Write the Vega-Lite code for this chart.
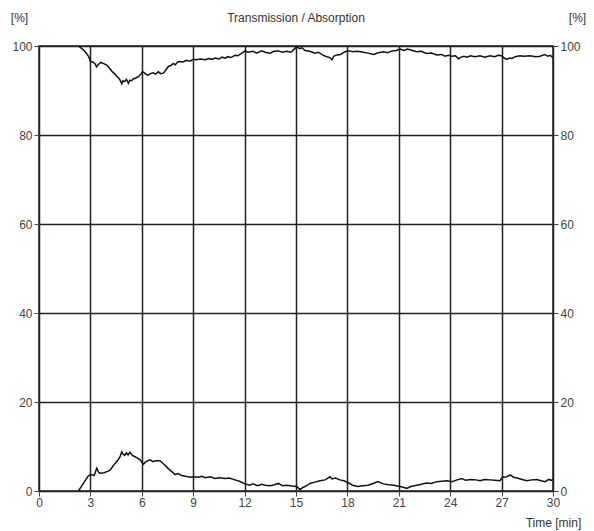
{
  "$schema": "https://vega.github.io/schema/vega-lite/v6.json",
  "width": 514,
  "height": 445,
  "autosize": "none",
  "padding": {"left": 39, "top": 46, "right": 41, "bottom": 40},
  "background": "white",
  "title": {
    "text": "Transmission / Absorption",
    "font": "Liberation Sans",
    "fontSize": 12,
    "fontWeight": "normal",
    "color": "#333",
    "anchor": "middle",
    "frame": "group",
    "offset": -14
  },
  "config": {
    "view": {"stroke": "#222", "strokeWidth": 1.5},
    "axis": {
      "labelFont": "Liberation Sans",
      "labelFontSize": 12,
      "labelColor": "#444",
      "labelFlush": false,
      "titleFont": "Liberation Sans",
      "titleFontSize": 12,
      "titleFontWeight": "normal",
      "titleColor": "#333",
      "domain": false,
      "tickColor": "#444",
      "tickSize": 5,
      "tickWidth": 1,
      "gridColor": "#222",
      "gridWidth": 1.5,
      "gridOpacity": 1
    }
  },
  "resolve": {"axis": {"y": "independent"}},
  "layer": [
    {
      "data": {"values": [
        {"t":2.3,"v":100},{"t":2.5,"v":99.4},{"t":2.7,"v":98.7},{"t":2.9,"v":97.6},{"t":3.0,"v":96.5},{"t":3.15,"v":96.4},{"t":3.27,"v":96.0},{"t":3.37,"v":95.3},{"t":3.45,"v":95.8},{"t":3.6,"v":96.3},{"t":3.75,"v":96.1},{"t":3.95,"v":95.7},{"t":4.1,"v":95.1},{"t":4.24,"v":94.4},{"t":4.4,"v":93.8},{"t":4.54,"v":93.2},{"t":4.65,"v":92.8},{"t":4.75,"v":92.2},{"t":4.83,"v":91.5},{"t":4.9,"v":92.2},{"t":5.0,"v":92.0},{"t":5.1,"v":92.5},{"t":5.22,"v":91.6},{"t":5.3,"v":92.3},{"t":5.4,"v":92.2},{"t":5.5,"v":92.6},{"t":5.65,"v":92.8},{"t":5.8,"v":93.1},{"t":5.95,"v":93.7},{"t":6.05,"v":94.3},{"t":6.2,"v":93.8},{"t":6.35,"v":93.4},{"t":6.5,"v":93.8},{"t":6.67,"v":94.0},{"t":6.8,"v":93.7},{"t":6.97,"v":94.2},{"t":7.1,"v":93.8},{"t":7.26,"v":93.9},{"t":7.4,"v":94.6},{"t":7.55,"v":95.4},{"t":7.7,"v":95.6},{"t":7.84,"v":96.1},{"t":7.95,"v":95.8},{"t":8.1,"v":96.4},{"t":8.23,"v":96.5},{"t":8.4,"v":96.4},{"t":8.62,"v":96.8},{"t":8.8,"v":96.6},{"t":9.0,"v":97.0},{"t":9.2,"v":96.9},{"t":9.4,"v":97.1},{"t":9.7,"v":96.9},{"t":9.9,"v":97.2},{"t":10.1,"v":97.0},{"t":10.27,"v":97.3},{"t":10.5,"v":97.1},{"t":10.7,"v":97.5},{"t":10.86,"v":97.2},{"t":11.0,"v":97.6},{"t":11.2,"v":97.4},{"t":11.44,"v":97.9},{"t":11.6,"v":97.8},{"t":11.8,"v":98.3},{"t":12.03,"v":98.9},{"t":12.2,"v":98.6},{"t":12.5,"v":98.8},{"t":12.7,"v":98.4},{"t":12.99,"v":98.9},{"t":13.2,"v":98.6},{"t":13.49,"v":98.4},{"t":13.7,"v":98.8},{"t":13.98,"v":98.9},{"t":14.2,"v":98.6},{"t":14.47,"v":98.8},{"t":14.7,"v":98.6},{"t":14.9,"v":99.3},{"t":15.04,"v":99.9},{"t":15.2,"v":99.4},{"t":15.35,"v":99.6},{"t":15.53,"v":99.0},{"t":15.8,"v":98.8},{"t":16.11,"v":98.4},{"t":16.3,"v":98.6},{"t":16.6,"v":97.9},{"t":16.8,"v":97.6},{"t":16.98,"v":97.4},{"t":17.1,"v":96.9},{"t":17.2,"v":97.7},{"t":17.38,"v":98.0},{"t":17.6,"v":98.1},{"t":17.8,"v":98.6},{"t":17.96,"v":98.8},{"t":18.15,"v":98.9},{"t":18.3,"v":98.7},{"t":18.6,"v":98.8},{"t":18.93,"v":98.6},{"t":19.2,"v":98.4},{"t":19.52,"v":98.1},{"t":19.8,"v":98.5},{"t":20.1,"v":98.7},{"t":20.35,"v":98.5},{"t":20.6,"v":98.9},{"t":20.85,"v":99.0},{"t":21.07,"v":99.3},{"t":21.3,"v":99.0},{"t":21.5,"v":99.3},{"t":21.8,"v":99.0},{"t":22.05,"v":98.7},{"t":22.3,"v":98.8},{"t":22.63,"v":98.3},{"t":22.9,"v":98.4},{"t":23.22,"v":98.0},{"t":23.5,"v":98.1},{"t":23.7,"v":97.7},{"t":23.9,"v":97.9},{"t":24.09,"v":97.7},{"t":24.3,"v":97.8},{"t":24.5,"v":97.1},{"t":24.58,"v":97.4},{"t":24.8,"v":97.7},{"t":25.0,"v":97.5},{"t":25.17,"v":97.8},{"t":25.45,"v":97.6},{"t":25.75,"v":97.8},{"t":26.0,"v":97.5},{"t":26.33,"v":97.8},{"t":26.6,"v":97.6},{"t":26.8,"v":97.9},{"t":27.0,"v":97.8},{"t":27.15,"v":97.3},{"t":27.3,"v":97.0},{"t":27.45,"v":97.3},{"t":27.6,"v":97.2},{"t":27.8,"v":97.6},{"t":28.08,"v":97.8},{"t":28.3,"v":97.7},{"t":28.66,"v":97.8},{"t":29.0,"v":97.6},{"t":29.25,"v":97.7},{"t":29.5,"v":98.1},{"t":29.7,"v":97.7},{"t":29.85,"v":97.9},{"t":30.0,"v":97.3}
      ]},
      "mark": {"type": "line", "color": "#111", "strokeWidth": 1.5, "clip": true},
      "encoding": {
        "x": {"field": "t", "type": "quantitative", "scale": {"domain": [0, 30], "nice": false},
              "axis": {"values": [0,3,6,9,12,15,18,21,24,27,30], "grid": true, "title": "Time [min]",
                       "titleAlign": "center", "titleX": 514, "titleY": 31, "titleBaseline": "middle", "labelPadding": 1}},
        "y": {"field": "v", "type": "quantitative", "scale": {"domain": [0, 100], "nice": false},
              "axis": {"orient": "left", "values": [0,20,40,60,80,100], "grid": true, "title": "[%]",
                       "titleAngle": 0, "titleX": -20, "titleY": -29, "titleAlign": "center", "titleBaseline": "middle", "labelPadding": 2}}
      }
    },
    {
      "data": {"values": [
        {"t":2.3,"v":0},{"t":2.59,"v":1.7},{"t":2.88,"v":3.4},{"t":3.08,"v":3.7},{"t":3.22,"v":3.5},{"t":3.37,"v":5.1},{"t":3.48,"v":4.2},{"t":3.56,"v":4.0},{"t":3.8,"v":4.1},{"t":4.0,"v":4.4},{"t":4.15,"v":4.7},{"t":4.3,"v":5.5},{"t":4.44,"v":6.2},{"t":4.6,"v":6.9},{"t":4.73,"v":7.7},{"t":4.83,"v":8.8},{"t":4.9,"v":8.3},{"t":5.0,"v":8.0},{"t":5.1,"v":8.6},{"t":5.2,"v":8.1},{"t":5.31,"v":8.7},{"t":5.45,"v":8.0},{"t":5.6,"v":7.7},{"t":5.75,"v":7.4},{"t":5.9,"v":7.0},{"t":6.09,"v":6.0},{"t":6.25,"v":6.6},{"t":6.48,"v":7.0},{"t":6.65,"v":6.6},{"t":6.8,"v":6.8},{"t":7.06,"v":6.8},{"t":7.2,"v":6.3},{"t":7.36,"v":5.8},{"t":7.5,"v":5.2},{"t":7.65,"v":4.7},{"t":7.8,"v":4.2},{"t":7.94,"v":3.7},{"t":8.1,"v":3.9},{"t":8.33,"v":3.5},{"t":8.55,"v":3.3},{"t":8.82,"v":3.1},{"t":9.0,"v":3.2},{"t":9.3,"v":3.1},{"t":9.5,"v":3.3},{"t":9.7,"v":3.0},{"t":10.0,"v":3.2},{"t":10.27,"v":2.8},{"t":10.5,"v":3.0},{"t":10.86,"v":2.8},{"t":11.1,"v":2.9},{"t":11.44,"v":2.5},{"t":11.7,"v":2.2},{"t":12.03,"v":1.6},{"t":12.3,"v":1.3},{"t":12.5,"v":1.6},{"t":12.75,"v":1.2},{"t":12.99,"v":1.5},{"t":13.2,"v":1.3},{"t":13.49,"v":1.2},{"t":13.75,"v":1.4},{"t":13.98,"v":1.7},{"t":14.2,"v":1.2},{"t":14.47,"v":1.3},{"t":14.75,"v":1.1},{"t":15.04,"v":1.0},{"t":15.24,"v":0.3},{"t":15.4,"v":0.8},{"t":15.53,"v":1.0},{"t":15.82,"v":1.7},{"t":16.1,"v":2.0},{"t":16.4,"v":2.3},{"t":16.7,"v":2.5},{"t":16.99,"v":3.2},{"t":17.1,"v":2.7},{"t":17.3,"v":2.9},{"t":17.57,"v":2.5},{"t":17.8,"v":2.3},{"t":18.03,"v":1.9},{"t":18.3,"v":1.3},{"t":18.61,"v":1.0},{"t":18.9,"v":1.2},{"t":19.2,"v":1.3},{"t":19.5,"v":1.7},{"t":19.78,"v":2.1},{"t":20.1,"v":1.6},{"t":20.4,"v":1.4},{"t":20.7,"v":1.3},{"t":21.07,"v":1.0},{"t":21.3,"v":0.8},{"t":21.47,"v":0.6},{"t":21.7,"v":1.0},{"t":22.05,"v":1.3},{"t":22.3,"v":1.5},{"t":22.63,"v":1.8},{"t":22.9,"v":1.7},{"t":23.22,"v":2.1},{"t":23.5,"v":2.2},{"t":23.8,"v":2.3},{"t":24.1,"v":2.1},{"t":24.4,"v":2.5},{"t":24.68,"v":2.8},{"t":24.9,"v":2.4},{"t":25.2,"v":2.6},{"t":25.5,"v":2.5},{"t":25.75,"v":2.3},{"t":26.0,"v":2.6},{"t":26.33,"v":2.5},{"t":26.6,"v":2.4},{"t":26.9,"v":2.3},{"t":27.05,"v":3.1},{"t":27.3,"v":3.2},{"t":27.5,"v":3.6},{"t":27.7,"v":3.1},{"t":27.9,"v":2.9},{"t":28.2,"v":2.6},{"t":28.47,"v":2.3},{"t":28.75,"v":2.5},{"t":29.05,"v":2.6},{"t":29.3,"v":2.3},{"t":29.54,"v":2.1},{"t":29.75,"v":2.6},{"t":29.9,"v":2.4},{"t":30.0,"v":2.6}
      ]},
      "mark": {"type": "line", "color": "#111", "strokeWidth": 1.5, "clip": true},
      "encoding": {
        "x": {"field": "t", "type": "quantitative"},
        "y": {"field": "v", "type": "quantitative",
              "axis": {"orient": "right", "values": [0,20,40,60,80,100], "grid": false, "title": "[%]",
                       "titleAngle": 0, "titleX": 24, "titleY": -29, "titleAlign": "center", "titleBaseline": "middle", "labelPadding": 2}}
      }
    }
  ]
}
